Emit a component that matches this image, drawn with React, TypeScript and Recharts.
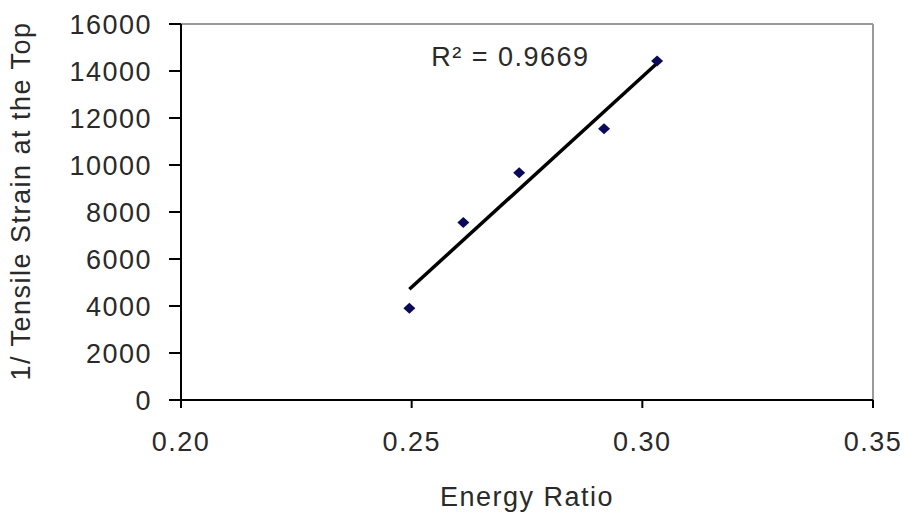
import {
  Label,
  ReferenceDot,
  ReferenceLine,
  Scatter,
  ScatterChart,
  XAxis,
  YAxis,
} from "recharts"

const energyRatio = [0.2495, 0.2612, 0.2733, 0.2917, 0.3032]
const inverseStrain = [3900, 7550, 9670, 11540, 14430]
const xTicks = [0.2, 0.25, 0.3, 0.35]
const yTicks = [0, 2000, 4000, 6000, 8000, 10000, 12000, 14000, 16000]
const rSquaredText = "R\u00b2 = 0.9669"

const FONT = "'Liberation Sans', Arial, sans-serif"
const TEXT = "#2a2a2a"
const FONT_SIZE = 27
const SPACING = 1.5

const points = energyRatio.map((x, i) => ({ x, y: inverseStrain[i] }))

// least-squares fit, drawn between the smallest and largest x
function linearFit(data: { x: number; y: number }[]) {
  const n = data.length
  const mx = data.reduce((s, d) => s + d.x, 0) / n
  const my = data.reduce((s, d) => s + d.y, 0) / n
  let sxy = 0
  let sxx = 0
  data.forEach((d) => {
    sxy += (d.x - mx) * (d.y - my)
    sxx += (d.x - mx) * (d.x - mx)
  })
  const slope = sxy / sxx
  const xs = data.map((d) => d.x)
  const x0 = Math.min(...xs)
  const x1 = Math.max(...xs)
  return [
    { x: x0, y: my + slope * (x0 - mx) },
    { x: x1, y: my + slope * (x1 - mx) },
  ]
}

const trend = linearFit(points)

function Diamond(props: any) {
  const { cx, cy } = props
  if (cx == null || cy == null) return null
  return (
    <path
      d={`M${cx},${cy - 5.5} L${cx + 6},${cy} L${cx},${cy + 5.5} L${cx - 6},${cy} Z`}
      fill="#0a0a5a"
    />
  )
}

function XTick(props: any) {
  const { x, y, payload } = props
  return (
    <g>
      <line x1={x} y1={y} x2={x} y2={y + 8} stroke="#000" strokeWidth={2} />
      <text
        x={x}
        y={y + 51}
        textAnchor="middle"
        fill={TEXT}
        fontSize={FONT_SIZE}
        letterSpacing={SPACING}
        fontFamily={FONT}
      >
        {Number(payload.value).toFixed(2)}
      </text>
    </g>
  )
}

export default function App() {
  return (
    <div style={{ position: "absolute", left: 0, top: 0, width: 904, height: 518, background: "#fff" }}>
      <ScatterChart width={904} height={518} margin={{ top: 24, right: 31, bottom: 0, left: 0 }}>
        <XAxis
          type="number"
          dataKey="x"
          domain={[0.2, 0.35]}
          ticks={xTicks}
          height={118}
          tickLine={false}
          tickSize={0}
          tickMargin={0}
          tick={<XTick />}
          axisLine={{ stroke: "#000", strokeWidth: 2 }}
        >
          <Label
            content={({ viewBox }: any) => (
              <text
                x={viewBox.x + viewBox.width / 2}
                y={viewBox.y + 106}
                textAnchor="middle"
                fill={TEXT}
                fontSize={FONT_SIZE}
                letterSpacing={SPACING}
                fontFamily={FONT}
              >
                Energy Ratio
              </text>
            )}
          />
        </XAxis>
        <YAxis
          type="number"
          dataKey="y"
          domain={[0, 16000]}
          ticks={yTicks}
          width={181}
          tickSize={12}
          tickMargin={17}
          tickLine={{ stroke: "#000", strokeWidth: 2 }}
          axisLine={{ stroke: "#000", strokeWidth: 2 }}
          tick={{ fill: TEXT, fontSize: FONT_SIZE, fontFamily: FONT, letterSpacing: SPACING }}
        >
          <Label
            content={({ viewBox }: any) => {
              const cx = viewBox.x + 21
              const cy = viewBox.y + viewBox.height / 2 - 11
              return (
                <text
                  x={cx}
                  y={cy}
                  transform={`rotate(-90 ${cx} ${cy})`}
                  textAnchor="middle"
                  dominantBaseline="central"
                  fill={TEXT}
                  fontSize={FONT_SIZE}
                  letterSpacing={SPACING}
                  fontFamily={FONT}
                >
                  1/ Tensile Strain at the Top
                </text>
              )
            }}
          />
        </YAxis>
        <ReferenceLine y={16000} stroke="#9a9a9a" strokeWidth={2} />
        <ReferenceLine x={0.35} stroke="#9a9a9a" strokeWidth={2} />
        <Scatter
          data={trend}
          line={{ stroke: "#000", strokeWidth: 3.5 }}
          shape={() => <g />}
          isAnimationActive={false}
        />
        <Scatter data={points} shape={<Diamond />} isAnimationActive={false} />
        <ReferenceDot
          x={0.2714}
          y={14600}
          r={0}
          fill="none"
          stroke="none"
          label={{
            value: rSquaredText,
            position: "center",
            fill: TEXT,
            fontSize: FONT_SIZE,
            fontFamily: FONT,
            letterSpacing: SPACING,
          }}
        />
      </ScatterChart>
    </div>
  )
}
